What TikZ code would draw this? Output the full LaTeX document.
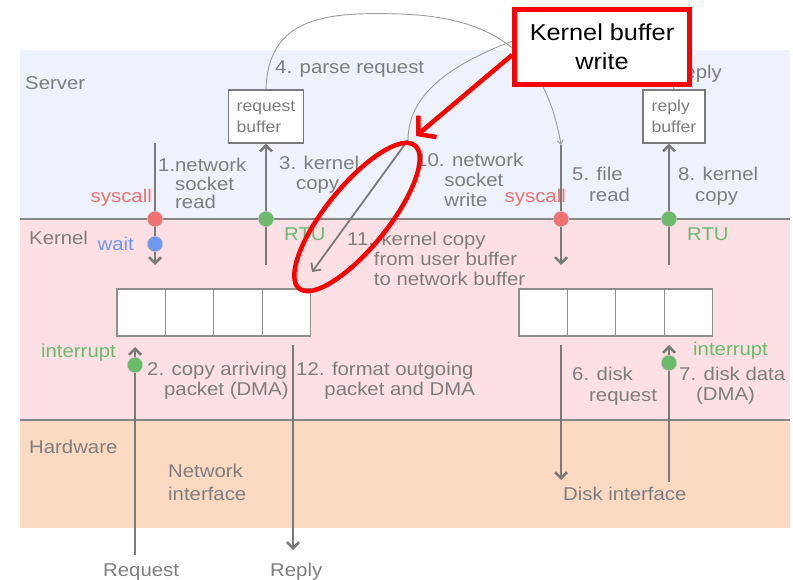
\documentclass[tikz,border=0pt]{standalone}
\usepackage{fontspec}
\setmainfont{Liberation Sans}[FakeStretch=1.1]
\usetikzlibrary{arrows.meta,positioning}
\definecolor{srvbg}{HTML}{EEF2FC}
\definecolor{krnbg}{HTML}{FDE0E3}
\definecolor{hwbg}{HTML}{FCD9C2}
\definecolor{lngray}{HTML}{7A7A7A}
\definecolor{txgray}{HTML}{7E7E7E}
\definecolor{sysred}{HTML}{F07272}
\definecolor{rtugreen}{HTML}{6DBA6D}
\definecolor{waitblue}{HTML}{6F98EE}

\begin{document}
\begin{tikzpicture}[x=1pt, y=-1pt,
  lbl/.style={font=\fontsize{18.5}{20}\selectfont, text=txgray, align=left,
              inner sep=0pt, anchor=base west},
  bufbox/.style={draw=lngray, fill=white, line width=1.2pt, align=left, inner sep=0pt,
                 minimum height=53pt, font=\fontsize{16}{21}\selectfont, text=txgray},
  cell/.style={draw=lngray!85, fill=white, line width=1.2pt, outer sep=0pt,
               minimum width=48.4pt, minimum height=47pt},
  dot/.style={circle, draw=white!60!gray, line width=0.5pt, minimum size=15.5pt, inner sep=0pt},
  sep/.style={lngray!90, line width=2.5pt},
  flow/.style={-{Straight Barb[length=6pt,width=12pt]}, lngray, line width=2.5pt},
  thinflow/.style={lngray!75, line width=0.9pt},
  callout/.style={draw=red, line width=5pt, fill=white, align=center, inner sep=0pt,
                  minimum width=175pt, minimum height=75pt, font=\fontsize{23}{31}\selectfont},
  redmark/.style={red, line width=4.5pt},
]
\useasboundingbox (0,0) rectangle (793,580);

% layer bands
\fill[srvbg] (20,50) rectangle (790,219);
\fill[krnbg] (20,219) rectangle (790,420);
\fill[hwbg]  (20,420) rectangle (790,528);
\draw[sep] (20,219) -- (790,219);
\draw[sep] (20,420) -- (790,420);

\node[lbl] (srv) at (25,90)  {Server};
\node[lbl] (krn) at (29,245) {Kernel};
\node[lbl] (hw)  at (29,453) {Hardware};

% user buffers
\node[bufbox, minimum width=75pt] (reqbuf) at (266,116.5) {request\\buffer};
\node[bufbox, minimum width=62pt] (repbuf) at (674,116.5) {reply\\buffer};

% network buffer and disk buffer
\node[cell] (nb1) at (141.2,312.5) {};
\node[cell, right=0pt of nb1] (nb2) {};
\node[cell, right=0pt of nb2] (nb3) {};
\node[cell, right=0pt of nb3] (nb4) {};
\node[cell] (db1) at (543.2,312.5) {};
\node[cell, right=0pt of db1] (db2) {};
\node[cell, right=0pt of db2] (db3) {};
\node[cell, right=0pt of db3] (db4) {};

% end points of the flows
\coordinate (a1top) at (155,143);
\coordinate (a1bot) at (155,265);
\coordinate (a3bot) at (266,265);
\coordinate (a5top) at (561,145);
\coordinate (a5bot) at (561,265);
\coordinate (a8bot) at (669,265);
\coordinate (w10)   at (408,140);
\coordinate (k11)   at (312,272);
\coordinate (a2bot) at (135,555);
\coordinate (a2top) at (135,347);
\coordinate (a12top) at (293,345);
\coordinate (a12bot) at (293,550);
\coordinate (a6top) at (561,345);
\coordinate (a6bot) at (561,480);
\coordinate (a7bot) at (669,482);
\coordinate (a7top) at (669,345);

% thin curves 4 and 9
\draw[thinflow, -{Straight Barb[length=4pt,width=6pt]}] (reqbuf.north)
  .. controls (268,15) and (330,12) .. (400,14)
  .. controls (490,17) and (545,50) .. (a5top);
\draw[thinflow] (repbuf.north) .. controls (665,40) and (560,28) .. (510,42)
  .. controls (450,65) and (408,95) .. (w10);

% flows
\draw[flow] (a1top) -- (a1bot);
\draw[flow] (a3bot) -- (reqbuf.south);
\draw[flow] (a5top) -- (a5bot);
\draw[flow] (a8bot) -- (a8bot |- repbuf.south);
\draw[flow, line width=1.8pt] (w10) -- (k11);
\draw[flow] (a2bot) -- (a2top);
\draw[flow] (a12top) -- (a12bot);
\draw[flow] (a6top) -- (a6bot);
\draw[flow] (a7bot) -- (a7top);

% syscall / return / interrupt marks
\node[dot, fill=sysred]   (sc1) at (155,219) {};
\node[dot, fill=waitblue] (wt1) at (155,244) {};
\node[dot, fill=rtugreen] (rt3) at (266,219) {};
\node[dot, fill=sysred]   (sc5) at (561,219) {};
\node[dot, fill=rtugreen] (rt8) at (669,219) {};
\node[dot, fill=rtugreen] (ir2) at (135,365) {};
\node[dot, fill=rtugreen] (ir7) at (669,363) {};

% step labels (placed at the baseline of their last line)
\node[lbl, font=\fontsize{18.5}{18.5}\selectfont] (t1) at (158,209) {1.network\\\phantom{1.}socket\\\phantom{1.}read};
\node[lbl, text=sysred, anchor=base east] (sc1lbl) at (152,203) {syscall};
\node[lbl, text=waitblue, anchor=base east] (wt1lbl) at (134,251) {wait};
\node[lbl] (t3) at (279,190) {3. kernel\\\phantom{3.}copy};
\node[lbl, text=rtugreen] (rt3lbl) at (284,241) {RTU};
\node[lbl] (t4) at (275,74) {4. parse request};
\node[lbl] (t10) at (416,207) {10. network\\\phantom{10.}socket\\\phantom{10.}write};
\node[lbl, text=sysred, anchor=base east] (sc5lbl) at (566,203) {syscall};
\node[lbl, font=\fontsize{18.5}{21}\selectfont] (t5) at (572,202) {5. file\\\phantom{5.}read};
\node[lbl, font=\fontsize{18.5}{21}\selectfont] (t8) at (678,202) {8. kernel\\\phantom{8.}copy};
\node[lbl, text=rtugreen] (rt8lbl) at (687,241) {RTU};
\node[lbl, anchor=base east] (t9) at (722,79) {reply};
\node[lbl] (t11) at (347,286) {11. kernel copy\\\phantom{11.}from user buffer\\\phantom{11.}to network buffer};
\node[lbl, text=rtugreen, anchor=base east] (ir2lbl) at (116,357) {interrupt};
\node[lbl] (t2) at (147,395) {2. copy arriving\\\phantom{2.}packet (DMA)};
\node[lbl] (t12) at (296,395) {12. format outgoing\\\phantom{12.}packet and DMA};
\node[lbl, font=\fontsize{18.5}{21}\selectfont] (t6) at (572,401) {6. disk\\\phantom{6.}request};
\node[lbl, text=rtugreen] (ir7lbl) at (693,355) {interrupt};
\node[lbl] (t7) at (679,400) {7. disk data\\\phantom{7.}(DMA)};
\node[lbl, font=\fontsize{18.5}{23}\selectfont] (nic) at (168,500) {Network\\interface};
\node[lbl] (disk) at (563,500) {Disk interface};
\node[lbl] (req) at (103,576) {Request};
\node[lbl] (rep) at (270,576) {Reply};

% highlight
\node[callout] (callout) at (602,47) {Kernel buffer\\[-2pt]write};
\coordinate (hit) at (416,136);
\draw[redmark, -{Straight Barb[length=12pt,width=28pt]}] ([yshift=-8pt]callout.west) -- (hit);
\draw[redmark, rotate around={51:(357,217)}] (357,217) ellipse [x radius=92, y radius=31];

\end{tikzpicture}
\end{document}
